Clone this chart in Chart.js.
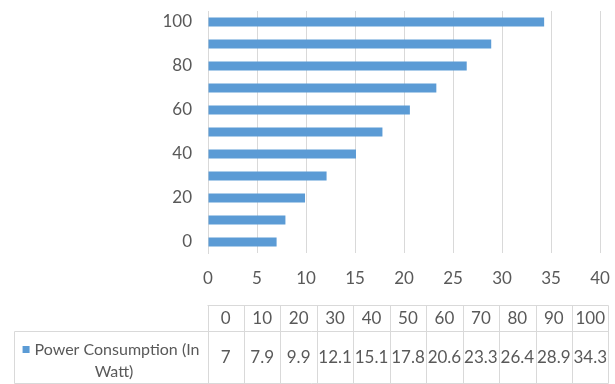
<!DOCTYPE html>
<html>
<head>
<meta charset="utf-8">
<script src="https://cdn.jsdelivr.net/npm/chart.js@4.4.1/dist/chart.umd.min.js"></script>
<style>
  html, body { margin: 0; padding: 0; background: #fff; }
  #wrap { width: 615px; height: 384px; position: relative; }
</style>
</head>
<body>
<div id="wrap"><canvas id="powerChart"></canvas></div>
<script>
// Data
const categories = ['0', '10', '20', '30', '40', '50', '60', '70', '80', '90', '100'];
const powerValues = [7, 7.9, 9.9, 12.1, 15.1, 17.8, 20.6, 23.3, 26.4, 28.9, 34.3];
const seriesLabel = ['Power Consumption (In', 'Watt)'];
const xMin = 0, xMax = 40, xStep = 5;

const barColor = '#5b9bd5';
const textColor = '#595959';
const lineColor = '#d9d9d9';
const fontFamily = 'Lato, "Noto Sans", sans-serif';

// Data table under the chart (Excel style)
const dataTable = {
  id: 'dataTable',
  afterDraw(chart) {
    const c = chart.ctx;
    const left = Math.round(chart.chartArea.left) - 0.5;
    const colW = 36.45;
    const right = left + colW * categories.length;
    const top = 305.5, mid = 331.5, bottom = 383.5, labelLeft = 14.5;

    c.save();
    c.strokeStyle = lineColor;
    c.lineWidth = 1;
    c.beginPath();
    // horizontal lines
    c.moveTo(left, top); c.lineTo(right, top);
    c.moveTo(labelLeft, mid); c.lineTo(right, mid);
    c.moveTo(labelLeft, bottom); c.lineTo(right, bottom);
    // vertical lines
    c.moveTo(labelLeft, mid); c.lineTo(labelLeft, bottom);
    for (let i = 0; i <= categories.length; i++) {
      const x = Math.round(left + i * colW) + 0.5;
      c.moveTo(x, top); c.lineTo(x, bottom);
    }
    c.stroke();

    c.fillStyle = textColor;
    c.font = '17px ' + fontFamily;
    c.textAlign = 'center';
    c.textBaseline = 'middle';
    categories.forEach((cat, i) => {
      const cx = left + (i + 0.5) * colW;
      c.fillText(cat, cx, 318.5);
      c.fillText(String(powerValues[i]), cx, 358);
    });

    // series label with legend swatch
    c.font = '16px ' + fontFamily;
    const labelCx = (labelLeft + left) / 2;
    const w1 = c.measureText(seriesLabel[0]).width;
    const sw = 7, gap = 5;
    const start = labelCx - (sw + gap + w1) / 2;
    c.fillStyle = barColor;
    c.fillRect(start, 346, sw, sw);
    c.fillStyle = textColor;
    c.textAlign = 'left';
    c.fillText(seriesLabel[0], start + sw + gap, 349.5);
    c.textAlign = 'center';
    c.fillText(seriesLabel[1], labelCx + 3, 371.5);
    c.restore();
  }
};

const ctx = document.getElementById('powerChart').getContext('2d');
new Chart(ctx, {
  type: 'bar',
  data: {
    labels: categories,
    datasets: [{
      label: seriesLabel.join(' '),
      data: powerValues,
      backgroundColor: barColor,
      borderWidth: 0,
      categoryPercentage: 1,
      barPercentage: 0.4
    }]
  },
  options: {
    indexAxis: 'y',
    responsive: true,
    maintainAspectRatio: false,
    animation: false,
    layout: { padding: { top: 11, right: 15, left: 0, bottom: 0 } },
    plugins: {
      legend: { display: false },
      tooltip: { enabled: false }
    },
    scales: {
      x: {
        min: xMin,
        max: xMax,
        ticks: {
          stepSize: xStep,
          color: textColor,
          font: { family: fontFamily, size: 17 },
          padding: 15
        },
        grid: { color: lineColor, drawTicks: false },
        border: { display: false },
        afterFit(scale) {
          scale.height = 131;
          scale.paddingLeft = 0;
          scale.paddingRight = 0;
        }
      },
      y: {
        reverse: true,
        ticks: {
          autoSkip: false,
          color: textColor,
          font: { family: fontFamily, size: 17 },
          padding: 16,
          callback(value, index) {
            return index % 2 === 0 ? categories[index] : '';
          }
        },
        grid: { display: false, drawTicks: false },
        border: { display: true, color: lineColor },
        afterFit(scale) {
          scale.width = 208;
          scale.paddingTop = 0;
          scale.paddingBottom = 0;
        }
      }
    }
  },
  plugins: [dataTable]
});
</script>
</body>
</html>
